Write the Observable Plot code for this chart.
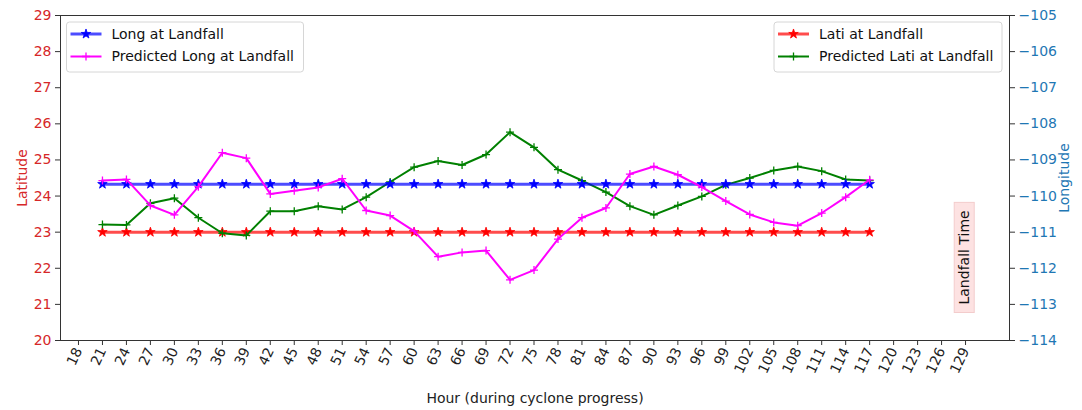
<!DOCTYPE html>
<html><head><meta charset="utf-8">
<script src="https://cdn.jsdelivr.net/npm/d3@7"></script>
<script src="https://cdn.jsdelivr.net/npm/@observablehq/plot@0.6"></script>
<style>
body{margin:0;background:#fff;font-family:"DejaVu Sans",sans-serif;}
#chart{position:relative;width:1082px;height:410px;}
</style></head><body><div id="chart"></div>
<script>
// ---- data ----
const hours = [21,24,27,30,33,36,39,42,45,48,51,54,57,60,63,66,69,72,75,78,81,84,87,90,93,96,99,102,105,108,111,114,117];
const latAtLandfall = [23.0,23.0,23.0,23.0,23.0,23.0,23.0,23.0,23.0,23.0,23.0,23.0,23.0,23.0,23.0,23.0,23.0,23.0,23.0,23.0,23.0,23.0,23.0,23.0,23.0,23.0,23.0,23.0,23.0,23.0,23.0,23.0,23.0];
const predictedLat = [23.21,23.20,23.80,23.94,23.40,22.97,22.91,23.58,23.58,23.72,23.63,23.97,24.39,24.80,24.97,24.86,25.15,25.77,25.35,24.73,24.43,24.11,23.72,23.48,23.74,23.99,24.31,24.50,24.71,24.82,24.69,24.46,24.43];
const longAtLandfall = [-109.67,-109.67,-109.67,-109.67,-109.67,-109.67,-109.67,-109.67,-109.67,-109.67,-109.67,-109.67,-109.67,-109.67,-109.67,-109.67,-109.67,-109.67,-109.67,-109.67,-109.67,-109.67,-109.67,-109.67,-109.67,-109.67,-109.67,-109.67,-109.67,-109.67,-109.67,-109.67,-109.67];
const predictedLong = [-109.57,-109.54,-110.26,-110.52,-109.74,-108.80,-108.95,-109.94,-109.85,-109.76,-109.52,-110.40,-110.54,-110.97,-111.68,-111.56,-111.51,-112.32,-112.05,-111.19,-110.60,-110.33,-109.39,-109.18,-109.41,-109.75,-110.14,-110.51,-110.73,-110.82,-110.47,-110.03,-109.55];
const xTicks = [18,21,24,27,30,33,36,39,42,45,48,51,54,57,60,63,66,69,72,75,78,81,84,87,90,93,96,99,102,105,108,111,114,117,120,123,126,129];
const latTicks = [20,21,22,23,24,25,26,27,28,29];
const lonTicks = [-114,-113,-112,-111,-110,-109,-108,-107,-106,-105];
const annotation = [{hour:128.9, lat:22.3, text:"Landfall Time"}];
const legendLeft = [
  {label:"Long at Landfall", color:"blue", kind:"star", opacity:0.7, width:3},
  {label:"Predicted Long at Landfall", color:"magenta", kind:"plus", opacity:1, width:2}
];
const legendRight = [
  {label:"Lati at Landfall", color:"red", kind:"star", opacity:0.7, width:3},
  {label:"Predicted Lati at Landfall", color:"green", kind:"plus", opacity:1, width:2}
];

// longitude mapped onto the latitude scale (twin axis): -105 <-> 29, -114 <-> 20
const LON_OFFSET = 134;
const rows = hours.map((h,i)=>({hour:h, lat:latAtLandfall[i], plat:predictedLat[i], lon:longAtLandfall[i]+LON_OFFSET, plon:predictedLong[i]+LON_OFFSET}));

const plusSymbol = {draw(ctx, size){const r=Math.sqrt(size/Math.PI); ctx.moveTo(-r,0);ctx.lineTo(r,0);ctx.moveTo(0,-r);ctx.lineTo(0,r);}};
const minus = v => (v<0 ? "\u2212" : "") + Math.abs(v);
const STAR_R = 3.0, PLUS_R = 4.0;

function series(y, color, kind, opacity, width){
  const marks = [Plot.line(rows,{x:"hour", y, stroke:color, strokeWidth:width, strokeOpacity:opacity})];
  if (kind==="star") marks.push(Plot.dot(rows,{x:"hour", y, symbol:"star", r:STAR_R, fill:color, stroke:color, strokeWidth:0.8}));
  else marks.push(Plot.dot(rows,{x:"hour", y, symbol:plusSymbol, r:PLUS_R, fill:"none", stroke:color, strokeWidth:1.3}));
  return marks;
}

const plot = Plot.plot({
  width:1082, height:410, marginLeft:60, marginRight:73, marginTop:15, marginBottom:70,
  style:{fontFamily:"DejaVu Sans", fontSize:"14px", background:"white", overflow:"visible", color:"#222"},
  x:{domain:[15.75,134.5]},
  y:{domain:[20,29]},
  marks:[
    Plot.axisX({ticks:xTicks, tickRotate:-65, tickSize:5, tickPadding:3, stroke:"#333", fill:"#222",
      label:"Hour (during cyclone progress)", labelAnchor:"center", labelArrow:"none", labelOffset:62}),
    Plot.axisY({ticks:latTicks, tickSize:5, tickPadding:4, stroke:"#333", fill:"#d62728",
      label:"Latitude", labelAnchor:"center", labelArrow:"none", labelOffset:43}),
    Plot.axisY({anchor:"right", ticks:lonTicks.map(v=>v+LON_OFFSET), tickFormat:v=>minus(Math.round(v-LON_OFFSET)),
      tickSize:5, tickPadding:4, stroke:"#333", fill:"#1f77b4",
      label:"Longitude", labelAnchor:"center", labelArrow:"none", labelOffset:59}),
    ...series("lat","red","star",0.7,3),
    ...series("plat","green","plus",1,2),
    ...series("lon","blue","star",0.7,3),
    ...series("plon","magenta","plus",1,2),
    Plot.text(annotation,{x:"hour", y:"lat", text:"text", rotate:-90, fontSize:14, fill:"#111"}),
    Plot.frame({stroke:"#333", strokeWidth:1})
  ]
});
document.getElementById("chart").appendChild(plot);

// annotation box
const svg = d3.select(plot);
svg.selectAll('g[aria-label="text"] text').each(function(){
  const b = this.getBBox();
  const tr = this.getAttribute("transform");
  d3.select(this.parentNode).insert("rect", function(){return this.firstChild;})
    .attr("transform", tr)
    .attr("x", b.x-8).attr("y", b.y-2).attr("width", b.width+16).attr("height", b.height+4)
    .attr("fill", "#fde2e2").attr("stroke", "#f3cccc").attr("stroke-width", 1);
});

// legends
function legend(x0, y0, w, entries){
  const g = svg.append("g").attr("text-anchor","start");
  g.append("rect").attr("x",x0).attr("y",y0).attr("width",w).attr("height",50).attr("rx",3)
    .attr("fill","white").attr("fill-opacity",0.8).attr("stroke","#d6d6d6");
  entries.forEach((e,i)=>{
    const cy = y0 + 12 + i*22.5;
    g.append("line").attr("x1",x0+4).attr("x2",x0+35).attr("y1",cy).attr("y2",cy)
      .attr("stroke",e.color).attr("stroke-width",e.width).attr("stroke-opacity",e.opacity);
    const sym = e.kind==="star" ? d3.symbol(d3.symbolStar, Math.PI*STAR_R*STAR_R) : d3.symbol(plusSymbol, Math.PI*PLUS_R*PLUS_R);
    g.append("path").attr("d",sym()).attr("transform",`translate(${x0+19.5},${cy})`)
      .attr("fill", e.kind==="star"?e.color:"none").attr("stroke",e.color).attr("stroke-width",e.kind==="star"?0.8:1.3);
    g.append("text").attr("x",x0+45).attr("y",cy).attr("dy","0.35em").attr("fill","#111")
      .attr("text-anchor","start").attr("font-size",14).text(e.label);
  });
}
legend(66.5, 22, 237, legendLeft);
legend(774, 22, 228, legendRight);
</script></body></html>
